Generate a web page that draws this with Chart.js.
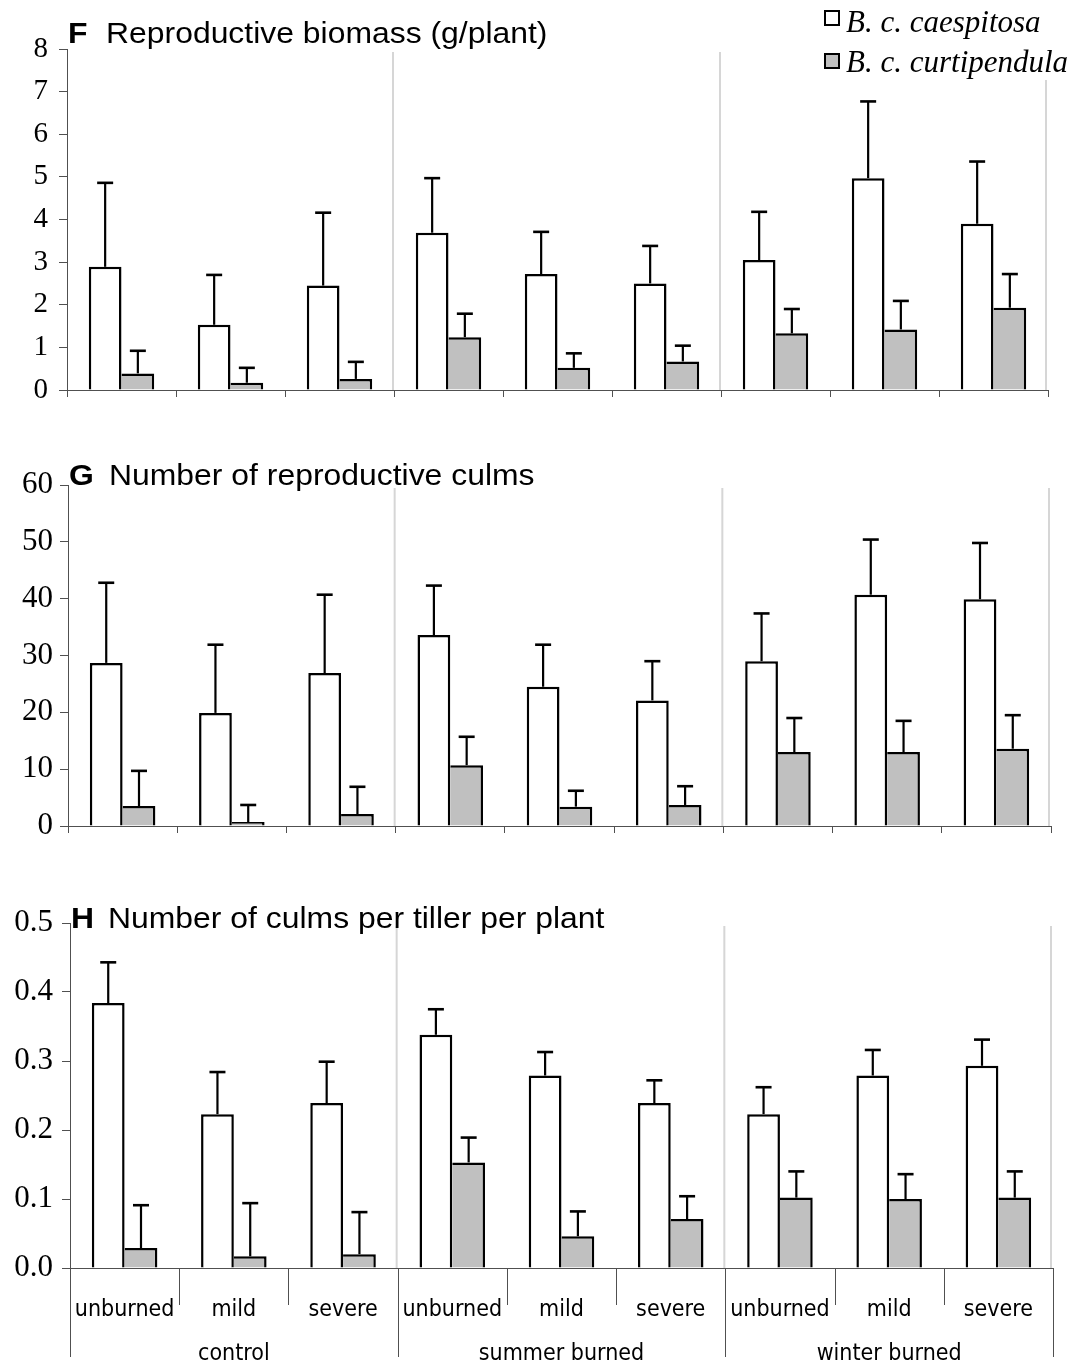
<!DOCTYPE html>
<html>
<head>
<meta charset="utf-8">
<script src="https://cdn.jsdelivr.net/npm/chart.js@4.4.1/dist/chart.umd.min.js"></script>
<style>
  html, body { margin: 0; padding: 0; background: #ffffff; }
  #wrap { position: relative; width: 1082px; height: 1368px; background: #ffffff; }
  #wrap canvas { position: absolute; left: 0; }
</style>
</head>
<body>
<div id="wrap">
  <canvas id="panelF" width="1082" height="440" style="top:0px"></canvas>
  <canvas id="panelG" width="1082" height="440" style="top:440px"></canvas>
  <canvas id="panelH" width="1082" height="488" style="top:880px"></canvas>
</div>
<script>
// ---- categories ----
const treatments = ['unburned', 'mild', 'severe', 'unburned', 'mild', 'severe', 'unburned', 'mild', 'severe'];
const seasons = ['control', 'summer burned', 'winter burned'];
const seriesNames = ['B. c. caespitosa', 'B. c. curtipendula'];

// ---- F: reproductive biomass (g/plant), mean and SE ----
const biomassCaes     = [2.89, 1.53, 2.45, 3.69, 2.72, 2.50, 3.05, 4.97, 3.90];
const biomassCaesSE   = [1.97, 1.17, 1.71, 1.28, 0.99, 0.88, 1.13, 1.80, 1.46];
const biomassCurt     = [0.39, 0.17, 0.26, 1.24, 0.52, 0.67, 1.33, 1.42, 1.93];
const biomassCurtSE   = [0.53, 0.35, 0.40, 0.55, 0.34, 0.37, 0.57, 0.67, 0.79];

// ---- G: number of reproductive culms ----
const culmsCaes       = [28.7, 19.9, 26.9, 33.6, 24.5, 22.1, 29.0, 40.7, 39.9];
const culmsCaesSE     = [14.1, 12.0, 13.8, 8.7, 7.4, 6.9, 8.4, 9.7, 9.9];
const culmsCurt       = [3.5, 0.7, 2.1, 10.7, 3.4, 3.7, 13.0, 13.0, 13.6];
const culmsCurtSE     = [6.2, 3.0, 4.8, 5.0, 2.8, 3.3, 6.0, 5.5, 5.9];

// ---- H: culms per tiller per plant ----
const ratioCaes       = [0.384, 0.223, 0.239, 0.338, 0.279, 0.239, 0.223, 0.279, 0.293];
const ratioCaesSE     = [0.059, 0.061, 0.060, 0.037, 0.034, 0.033, 0.039, 0.037, 0.038];
const ratioCurt       = [0.029, 0.017, 0.020, 0.153, 0.046, 0.071, 0.102, 0.100, 0.102];
const ratioCurtSE     = [0.062, 0.077, 0.061, 0.036, 0.036, 0.033, 0.038, 0.036, 0.038];

// ---- y-axis ranges ----
const yRangeF = [0, 8, 1];
const yRangeG = [0, 60, 10];
const yRangeH = [0, 0.5, 0.1];

const AXIS_GREY = '#505050';

// upward-only error bars with a cap
const errorBarPlugin = {
  id: 'errorBars',
  afterDatasetsDraw(chart) {
    const ctx = chart.ctx;
    const y = chart.scales.y;
    chart.data.datasets.forEach((ds, d) => {
      const meta = chart.getDatasetMeta(d);
      meta.data.forEach((bar, i) => {
        const top = y.getPixelForValue(ds.data[i] + ds.errors[i]);
        ctx.save();
        ctx.strokeStyle = '#000000';
        ctx.lineWidth = 2.2;
        ctx.beginPath();
        ctx.moveTo(bar.x, bar.y);
        ctx.lineTo(bar.x, top);
        ctx.stroke();
        ctx.lineWidth = 2.6;
        ctx.beginPath();
        ctx.moveTo(bar.x - 8, top);
        ctx.lineTo(bar.x + 8, top);
        ctx.stroke();
        ctx.restore();
      });
    });
  }
};

// light vertical rules closing each season group
const groupRulePlugin = {
  id: 'groupRules',
  beforeDatasetsDraw(chart) {
    const ctx = chart.ctx;
    const x = chart.scales.x;
    const area = chart.chartArea;
    ctx.save();
    ctx.strokeStyle = '#d6d6d6';
    ctx.lineWidth = 2;
    for (let g = 1; g <= seasons.length; g++) {
      const idx = g * 3 - 1;
      const xb = g < seasons.length
        ? (x.getPixelForValue(idx) + x.getPixelForValue(idx + 1)) / 2 - 1
        : area.right - 2;
      ctx.beginPath();
      ctx.moveTo(xb, area.top + 3);
      ctx.lineTo(xb, area.bottom);
      ctx.stroke();
    }
    ctx.restore();
  }
};

// panel letter + heading
const panelTitlePlugin = {
  id: 'panelTitle',
  afterDraw(chart, args, opts) {
    if (!opts || !opts.letter) return;
    const ctx = chart.ctx;
    const area = chart.chartArea;
    const base = area.top + opts.dy;
    ctx.save();
    ctx.fillStyle = '#000000';
    ctx.textBaseline = 'alphabetic';
    ctx.textAlign = 'left';
    ctx.translate(area.left + 1, base);
    ctx.scale(1.1, 1);
    ctx.font = 'bold 29px "Liberation Sans", Arial, sans-serif';
    ctx.fillText(opts.letter, 0, 0);
    ctx.font = '29px "Liberation Sans", Arial, sans-serif';
    ctx.fillText(opts.text, opts.gap / 1.1, 0);
    ctx.restore();
  }
};

// series key in the top right corner
const seriesKeyPlugin = {
  id: 'seriesKey',
  afterDraw(chart, args, opts) {
    if (!opts || !opts.show) return;
    const ctx = chart.ctx;
    ctx.save();
    ctx.fillStyle = '#ffffff';
    ctx.fillRect(816, 0, 266, 80);
    chart.data.datasets.forEach((ds, i) => {
      const sy = 10 + i * 43;
      ctx.fillStyle = ds.backgroundColor;
      ctx.fillRect(824, sy, 16, 16);
      ctx.strokeStyle = '#000000';
      ctx.lineWidth = 2;
      ctx.strokeRect(825, sy + 1, 14, 14);
      ctx.fillStyle = '#000000';
      ctx.font = 'italic 31px "Liberation Serif", "Times New Roman", serif';
      ctx.textBaseline = 'alphabetic';
      ctx.textAlign = 'left';
      ctx.fillText(ds.label, 846, 32 + i * 40);
    });
    ctx.restore();
  }
};

// two-level category axis under the last panel
const twoLevelAxisPlugin = {
  id: 'twoLevelAxis',
  afterDraw(chart, args, opts) {
    if (!opts || !opts.show) return;
    const ctx = chart.ctx;
    const x = chart.scales.x;
    const area = chart.chartArea;
    const base = area.bottom;
    const n = treatments.length;
    const edge = i => {
      if (i === 0) return area.left;
      if (i === n) return area.right;
      return (x.getPixelForValue(i - 1) + x.getPixelForValue(i)) / 2;
    };
    ctx.save();
    ctx.strokeStyle = AXIS_GREY;
    ctx.lineWidth = 1;
    for (let i = 0; i <= n; i++) {
      const ex = Math.round(edge(i)) + 0.5;
      const long = i % 3 === 0;
      ctx.beginPath();
      ctx.moveTo(ex, base);
      ctx.lineTo(ex, base + (long ? 89 : 37));
      ctx.stroke();
    }
    ctx.fillStyle = '#000000';
    ctx.font = '23px "DejaVu Sans Condensed", "DejaVu Sans", sans-serif';
    ctx.textAlign = 'center';
    ctx.textBaseline = 'alphabetic';
    treatments.forEach((t, i) => {
      ctx.fillText(t, x.getPixelForValue(i), base + 48);
    });
    seasons.forEach((s, g) => {
      const cx = (edge(g * 3) + edge(g * 3 + 3)) / 2;
      ctx.fillText(s, cx, base + 92);
    });
    ctx.restore();
  }
};

function makePanel(canvasId, caes, caesSE, curt, curtSE, range, layout, yFmt, extra) {
  const [ymin, ymax, ystep] = range;
  return new Chart(document.getElementById(canvasId), {
    type: 'bar',
    data: {
      labels: treatments,
      datasets: [
        {
          label: seriesNames[0],
          data: caes,
          errors: caesSE,
          backgroundColor: '#ffffff',
          borderColor: '#000000',
          borderWidth: { top: 2.5, left: 2.5, right: 2.5, bottom: 0 },
          borderSkipped: 'start'
        },
        {
          label: seriesNames[1],
          data: curt,
          errors: curtSE,
          backgroundColor: '#c0c0c0',
          borderColor: '#000000',
          borderWidth: { top: 2.5, left: 0, right: 2.5, bottom: 0 },
          borderSkipped: 'start'
        }
      ]
    },
    options: {
      responsive: false,
      devicePixelRatio: 1,
      animation: false,
      events: [],
      layout: { padding: { top: layout.top, left: 0, right: layout.right, bottom: layout.bottom } },
      datasets: { bar: { categoryPercentage: 0.6, barPercentage: 1.0 } },
      plugins: {
        legend: { display: false },
        tooltip: { enabled: false },
        title: { display: false },
        panelTitle: extra.title,
        seriesKey: { show: !!extra.key },
        twoLevelAxis: { show: !!extra.twoLevel }
      },
      scales: {
        x: {
          type: 'category',
          offset: true,
          afterFit: s => { s.height = 10; },
          ticks: { display: false },
          grid: {
            display: true,
            offset: true,
            drawOnChartArea: false,
            drawTicks: !extra.twoLevel,
            tickLength: 7,
            color: AXIS_GREY,
            lineWidth: 1
          },
          border: { display: true, color: AXIS_GREY, width: 1 }
        },
        y: {
          min: ymin,
          max: ymax,
          afterFit: s => { s.width = layout.left; },
          ticks: {
            stepSize: ystep,
            padding: layout.tickPad,
            color: '#000000',
            font: { family: '"Liberation Serif", "Times New Roman", serif', size: layout.tickSize },
            callback: v => yFmt(v)
          },
          grid: {
            drawOnChartArea: false,
            drawTicks: true,
            tickLength: 8,
            color: AXIS_GREY,
            lineWidth: 1
          },
          border: { display: true, color: AXIS_GREY, width: 1 }
        }
      }
    },
    plugins: [groupRulePlugin, errorBarPlugin, panelTitlePlugin, seriesKeyPlugin, twoLevelAxisPlugin]
  });
}

makePanel('panelF', biomassCaes, biomassCaesSE, biomassCurt, biomassCurtSE, yRangeF,
  { top: 49, right: 34, bottom: 40, left: 67, tickPad: 11, tickSize: 29 },
  v => String(v),
  { title: { letter: 'F', text: 'Reproductive biomass (g/plant)', gap: 38, dy: -6 }, key: true });

makePanel('panelG', culmsCaes, culmsCaesSE, culmsCurt, culmsCurtSE, yRangeG,
  { top: 45, right: 31, bottom: 44, left: 68, tickPad: 7, tickSize: 31 },
  v => String(v),
  { title: { letter: 'G', text: 'Number of reproductive culms', gap: 40, dy: 0 } });

makePanel('panelH', ratioCaes, ratioCaesSE, ratioCurt, ratioCurtSE, yRangeH,
  { top: 43, right: 29, bottom: 90, left: 70, tickPad: 9, tickSize: 31 },
  v => Number(v).toFixed(1),
  { title: { letter: 'H', text: 'Number of culms per tiller per plant', gap: 37, dy: 5 }, twoLevel: true });
</script>
</body>
</html>
